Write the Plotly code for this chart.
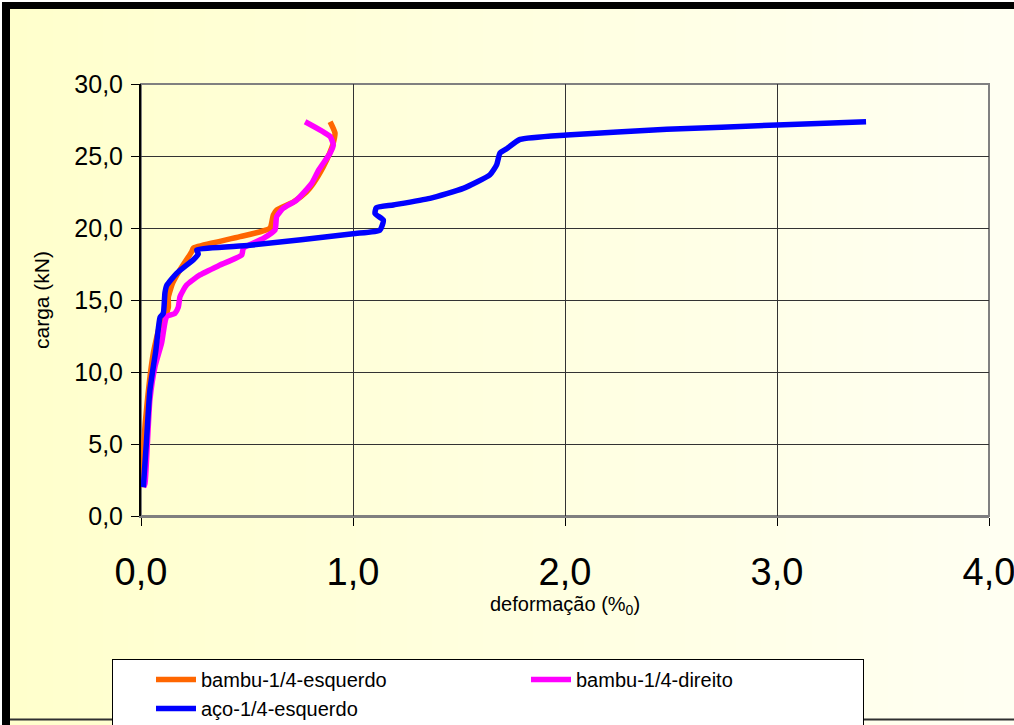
import plotly.graph_objects as go

# ---- data ----
orange_x = [0.005, 0.011, 0.03, 0.058, 0.09, 0.115, 0.129, 0.129, 0.15, 0.184, 0.239, 0.247, 0.35, 0.467, 0.608, 0.624, 0.64, 0.718, 0.78, 0.813, 0.86, 0.89, 0.907, 0.915, 0.892]
orange_y = [2.0, 4.6, 8.0, 11.3, 13.3, 13.9, 14.5, 15.2, 16.2, 17.1, 18.35, 18.6, 19.0, 19.4, 19.98, 20.9, 21.25, 21.8, 22.5, 23.1, 24.26, 25.2, 25.9, 26.6, 27.38]

magenta_x = [0.012, 0.019, 0.03, 0.042, 0.066, 0.097, 0.121, 0.16, 0.176, 0.184, 0.215, 0.278, 0.373, 0.475, 0.483, 0.577, 0.632, 0.64, 0.671, 0.734, 0.805, 0.837, 0.892, 0.907, 0.892, 0.774]
magenta_y = [2.0, 2.27, 5.0, 8.05, 10.37, 12.0, 13.84, 14.07, 14.5, 15.23, 16.04, 16.74, 17.43, 18.13, 18.6, 19.28, 19.86, 20.8, 21.37, 21.94, 23.1, 24.0, 25.2, 25.76, 26.35, 27.38]

blue_x = [0.011, 0.025, 0.042, 0.07, 0.09, 0.105, 0.113, 0.121, 0.168, 0.247, 0.27, 0.263, 0.514, 1.0, 1.127, 1.143, 1.104, 1.11, 1.19, 1.363, 1.52, 1.646, 1.678, 1.693, 1.725, 1.788, 2.008, 2.48, 3.0, 3.42]
blue_y = [2.0, 5.0, 8.75, 11.5, 13.8, 14.07, 15.5, 16.0, 16.85, 17.8, 18.2, 18.47, 18.8, 19.6, 19.86, 20.55, 21.0, 21.4, 21.6, 22.06, 22.75, 23.7, 24.4, 25.2, 25.5, 26.15, 26.46, 26.85, 27.15, 27.38]

names = ["bambu-1/4-esquerdo", "bambu-1/4-direito", "aço-1/4-esquerdo"]
colors = ["#FF6600", "#FF00FF", "#0000FF"]

x_ticks = [0, 1, 2, 3, 4]
y_ticks = [0, 5, 10, 15, 20, 25, 30]

# ---- geometry helpers (pixel -> paper) ----
W, H = 1014, 725
L, R, T, B = 141, 25, 84, 209
PW, PH = W - L - R, H - T - B


def px(xp):
    return (xp - L) / PW


def py(yp):
    return (H - B - yp) / PH


FONT = "Liberation Sans, Arial, sans-serif"

fig = go.Figure()
for xs, ys, nm, c in zip([orange_x, magenta_x, blue_x], [orange_y, magenta_y, blue_y], names, colors):
    fig.add_trace(go.Scatter(x=xs, y=ys, mode="lines", name=nm,
                             line=dict(color=c, width=5.5, shape="spline", smoothing=0.5)))

shapes = []
# background gradient (pale yellow -> near white)
n = 40
c0 = (255, 255, 204)
c1 = (255, 255, 242)
for i in range(n):
    t = i / (n - 1)
    col = "rgb(%d,%d,%d)" % tuple(round(a + (b - a) * t) for a, b in zip(c0, c1))
    x0 = 2 + (W - 2) * i / n
    x1 = 2 + (W - 2) * (i + 1) / n + 1
    shapes.append(dict(type="rect", xref="paper", yref="paper", layer="below",
                       x0=px(x0), x1=px(x1), y0=py(H), y1=py(2),
                       fillcolor=col, line=dict(width=0)))
# outer black frame (top and left)
shapes.append(dict(type="rect", xref="paper", yref="paper", x0=px(2), x1=px(W + 5), y0=py(9), y1=py(2),
                   fillcolor="black", line=dict(width=0), layer="above"))
shapes.append(dict(type="rect", xref="paper", yref="paper", x0=px(2), x1=px(10), y0=py(H + 5), y1=py(2),
                   fillcolor="black", line=dict(width=0), layer="above"))
# bottom frame line
shapes.append(dict(type="line", xref="paper", yref="paper", x0=px(10), x1=px(W + 5), y0=py(719.5), y1=py(719.5),
                   line=dict(color="#303030", width=2), layer="above"))
# plot area border
shapes.append(dict(type="rect", xref="paper", yref="paper", x0=0, x1=1, y0=0, y1=1,
                   line=dict(color="#808080", width=2), layer="below"))

fig.update_layout(
    width=W, height=H,
    margin=dict(l=L, r=R, t=T, b=B, autoexpand=False),
    paper_bgcolor="white",
    plot_bgcolor="white",
    separators=",.",
    font=dict(family=FONT, color="black"),
    shapes=shapes,
    showlegend=True,
    legend=dict(orientation="h", x=px(112), y=py(659), xanchor="left", yanchor="top",
                xref="paper", yref="paper",
                bgcolor="white", bordercolor="black", borderwidth=1,
                font=dict(size=20, family=FONT), entrywidth=282, tracegroupgap=0,
                itemwidth=40, indentation=38),
    xaxis=dict(range=[0, 4], tickvals=x_ticks, tickformat=".1f",
               showgrid=True, gridcolor="#333333", gridwidth=1,
               showline=True, linecolor="#808080", linewidth=2,
               ticks="outside", ticklen=8, tickcolor="black", tickwidth=1,
               tickfont=dict(size=38), ticklabelstandoff=13, ticklabeloverflow="allow",
               zeroline=False,
               title=dict(text="deformação (%<sub>0</sub>)", font=dict(size=20), standoff=0)),
    yaxis=dict(range=[0, 30], tickvals=y_ticks, tickformat=".1f",
               showgrid=True, gridcolor="#333333", gridwidth=1,
               showline=True, linecolor="black", linewidth=2,
               ticks="outside", ticklen=8, tickcolor="black", tickwidth=1,
               tickfont=dict(size=25), ticklabelstandoff=3,
               zeroline=False,
               title=dict(text="carga (kN)", font=dict(size=21), standoff=19)),
)

fig.write_html("out.html", config={"displayModeBar": False},
               post_script="document.body.style.margin='0px';")
